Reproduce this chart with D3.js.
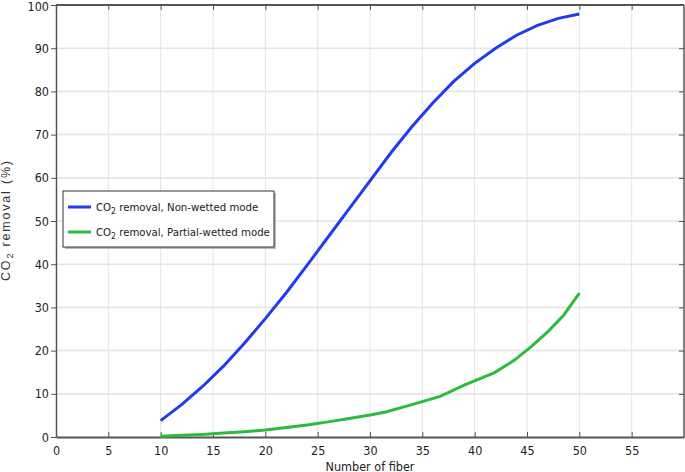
<!DOCTYPE html>
<html><head><meta charset="utf-8">
<script src="https://cdn.jsdelivr.net/npm/d3@7"></script>
<style>
body{margin:0;background:#fff;}
text{font-family:"DejaVu Sans Condensed","DejaVu Sans",sans-serif;font-stretch:condensed;}
</style></head>
<body><svg id="c" width="685" height="472"></svg>
<script>
const xTicks = [0,5,10,15,20,25,30,35,40,45,50,55];
const yTicks = [0,10,20,30,40,50,60,70,80,90,100];
const nonWettedX = [10,12,14,16,18,20,22,24,26,28,30,32,34,36,38,40,42,44,46,48,50];
const nonWettedY = [3.8,7.5,11.7,16.4,21.7,27.4,33.4,39.8,46.3,52.8,59.3,65.8,71.8,77.3,82.3,86.5,90.0,93.0,95.3,96.9,97.9];
const partialX = [10,12,14,16,18,20,22,24,26,28,30,31.5,34,36.7,39,41.9,43.8,45.4,47,48.5,50];
const partialY = [0.2,0.4,0.6,0.9,1.2,1.6,2.2,2.8,3.5,4.3,5.1,5.8,7.5,9.4,12,14.9,17.8,20.9,24.4,28.2,33.3];
const seriesNames = ["CO\u2082 removal, Non-wetted mode","CO\u2082 removal, Partial-wetted mode"];
const colors = ["#1f3cf0","#2dbb3c"];

const svg = d3.select("#c");
const L=56,R=684,T=5,B=437;
const x = d3.scaleLinear().domain([0,60]).range([L,R]);
const y = d3.scaleLinear().domain([0,100]).range([B,T]);

// grid
const g = svg.append("g");
g.selectAll(".vx").data(xTicks.filter(d=>d>0)).enter().append("line")
 .attr("x1",d=>x(d)).attr("x2",d=>x(d)).attr("y1",T).attr("y2",B)
 .attr("stroke","#e4e4e4").attr("stroke-width",1);
g.selectAll(".hy").data(yTicks.filter(d=>d>0&&d<100)).enter().append("line")
 .attr("x1",L).attr("x2",R).attr("y1",d=>y(d)).attr("y2",d=>y(d))
 .attr("stroke","#e4e4e4").attr("stroke-width",1.5);

// frame
svg.append("line").attr("x1",L).attr("x2",R).attr("y1",T).attr("y2",T).attr("stroke","#555").attr("stroke-width",2);
svg.append("line").attr("x1",R).attr("x2",R).attr("y1",T).attr("y2",B).attr("stroke","#555").attr("stroke-width",1.5);

// axes
const xAxis = d3.axisBottom(x).tickValues(xTicks).tickSizeInner(-5).tickSizeOuter(0).tickPadding(9);
const gx = svg.append("g").attr("transform",`translate(0,${B})`).call(xAxis);
gx.select(".domain").attr("stroke","#555").attr("stroke-width",2);
gx.selectAll(".tick line").attr("stroke","#555");
gx.selectAll("text").attr("font-size",12.5).attr("fill","#222");

const yAxis = d3.axisLeft(y).tickValues(yTicks).tickSizeInner(5).tickSizeOuter(0).tickPadding(2);
const gy = svg.append("g").attr("transform",`translate(${L},0)`).call(yAxis);
gy.select(".domain").attr("stroke","#555").attr("stroke-width",1.5);
gy.selectAll(".tick line").attr("stroke","#555");
gy.selectAll("text").attr("font-size",12.5).attr("fill","#222");
gy.selectAll(".tick").filter(d=>d===100).select("text").attr("dy","0.42em");

// top ticks & right ticks (inside)
const topAx = d3.axisTop(x).tickValues(xTicks.filter(d=>d>0)).tickSizeInner(-5).tickSizeOuter(0).tickFormat("");
const gt = svg.append("g").attr("transform",`translate(0,${T})`).call(topAx);
gt.select(".domain").remove(); gt.selectAll(".tick line").attr("stroke","#555");
const rightAx = d3.axisRight(y).tickValues(yTicks.filter(d=>d>0&&d<100)).tickSizeInner(-5).tickSizeOuter(0).tickFormat("");
const gr = svg.append("g").attr("transform",`translate(${R},0)`).call(rightAx);
gr.select(".domain").remove(); gr.selectAll(".tick line").attr("stroke","#555");

// lines
const line = d3.line().x(d=>x(d[0])).y(d=>y(d[1]));
const s1 = nonWettedX.map((v,i)=>[v,nonWettedY[i]]);
const s2 = partialX.map((v,i)=>[v,partialY[i]]);
svg.append("path").datum(s1).attr("d",line).attr("fill","none").attr("stroke",colors[0]).attr("stroke-width",3);
svg.append("path").datum(s2).attr("d",line).attr("fill","none").attr("stroke",colors[1]).attr("stroke-width",3);

// axis labels
svg.append("text").attr("x",x(30)).attr("y",470.5).attr("text-anchor","middle").attr("font-size",12.5).attr("fill","#222").text("Number of fiber");
const yl = svg.append("text").attr("transform","translate(10,221) rotate(-90)").attr("text-anchor","middle").attr("font-size",12.5).attr("fill","#333")
  .attr("textLength",120).attr("lengthAdjust","spacing")
  .style("font-family","'Liberation Sans',Arial,sans-serif").style("font-stretch","normal");
yl.append("tspan").text("CO");
yl.append("tspan").attr("font-size",9).attr("dy",3).text("2");
yl.append("tspan").attr("dy",-3).text(" removal (%)");

// legend
const lg = svg.append("g");
lg.append("rect").attr("x",65).attr("y",193).attr("width",211).attr("height",56).attr("fill","#bbb");
lg.append("rect").attr("x",63).attr("y",191).attr("width",211).attr("height",56).attr("fill","#fff").attr("stroke","#333").attr("stroke-width",1);
seriesNames.forEach((n,i)=>{
  const yy = 207 + i*25;
  lg.append("line").attr("x1",68).attr("x2",91).attr("y1",yy).attr("y2",yy).attr("stroke",colors[i]).attr("stroke-width",3);
  const t = lg.append("text").attr("x",96).attr("y",yy+4).attr("font-size",11.3).attr("fill","#222");
  t.append("tspan").text("CO");
  t.append("tspan").attr("font-size",8.5).attr("dy",3).text("2");
  t.append("tspan").attr("dy",-3).text(n.slice(3));
});
</script></body></html>
